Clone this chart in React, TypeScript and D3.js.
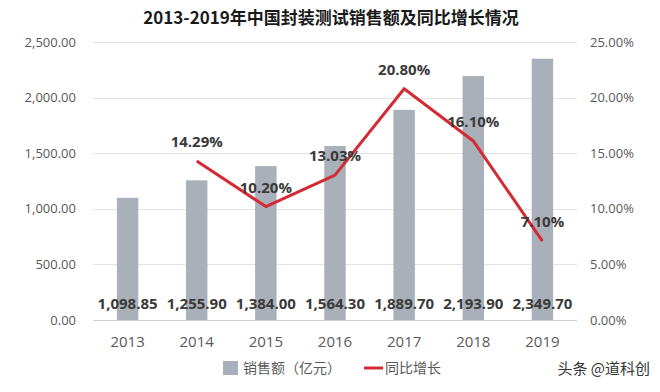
import React, { useEffect, useRef } from "react";
import * as d3 from "d3";

const years = ["2013", "2014", "2015", "2016", "2017", "2018", "2019"];
const sales = [1098.85, 1255.9, 1384.0, 1564.3, 1889.7, 2193.9, 2349.7];
const growthYears = ["2014", "2015", "2016", "2017", "2018", "2019"];
const growth = [14.29, 10.2, 13.03, 20.8, 16.1, 7.1];
const leftTicks = [0, 500, 1000, 1500, 2000, 2500];
const rightTicks = [0, 5, 10, 15, 20, 25];

const title = "2013-2019年中国封装测试销售额及同比增长情况";
const legendBar = "销售额（亿元）";
const legendLine = "同比增长";
const watermark = "头条 @道科创";

const W = 660;
const H = 392;
const FONT = "'Open Sans', 'Noto Sans CJK SC', sans-serif";
const CJK = "'Noto Sans CJK SC', 'Open Sans', sans-serif";

export default function App() {
  const ref = useRef<SVGSVGElement>(null);

  useEffect(() => {
    draw();
  }, []);

  const draw = () => {
    const svg = d3.select(ref.current);
    svg.selectAll("*").remove();

    const left = 93;
    const right = 577;
    const top = 42;
    const bottom = 320;

    const x = d3.scaleBand().domain(years).range([left, right]).paddingInner(0.69).paddingOuter(0.345);
    const yL = d3.scaleLinear().domain([0, 2500]).range([bottom, top]);
    const yR = d3.scaleLinear().domain([0, 25]).range([bottom, top]);
    const cx = (d: string) => (x(d) as number) + x.bandwidth() / 2;

    // title
    svg
      .append("text")
      .attr("x", 331)
      .attr("y", 24)
      .attr("text-anchor", "middle")
      .style("font-family", CJK)
      .style("font-weight", "bold")
      .style("font-size", "17px")
      .style("fill", "#1a1a1a")
      .text(title);

    // grid
    svg
      .append("g")
      .selectAll("line")
      .data(leftTicks)
      .enter()
      .append("line")
      .attr("x1", left)
      .attr("x2", right)
      .attr("y1", (d) => Math.round(yL(d)) + 0.5)
      .attr("y2", (d) => Math.round(yL(d)) + 0.5)
      .style("stroke", (d) => (d === 0 ? "#d0d0d0" : "#e3e3e3"))
      .style("stroke-width", 1);

    // left axis labels
    svg
      .append("g")
      .selectAll("text")
      .data(leftTicks)
      .enter()
      .append("text")
      .attr("x", 76)
      .attr("y", (d) => yL(d) + 4.5)
      .attr("text-anchor", "end")
      .style("font-family", FONT)
      .style("font-size", "13px")
      .style("fill", "#595959")
      .text((d) => d3.format(",.2f")(d));

    // right axis labels
    svg
      .append("g")
      .selectAll("text")
      .data(rightTicks)
      .enter()
      .append("text")
      .attr("x", 590)
      .attr("y", (d) => yR(d) + 4.5)
      .attr("text-anchor", "start")
      .style("font-family", FONT)
      .style("font-size", "13px")
      .style("fill", "#595959")
      .text((d) => d.toFixed(2) + "%");

    // bars
    svg
      .append("g")
      .selectAll("rect")
      .data(sales)
      .enter()
      .append("rect")
      .attr("x", (d, i) => x(years[i]) as number)
      .attr("y", (d) => yL(d))
      .attr("width", x.bandwidth())
      .attr("height", (d) => bottom - yL(d))
      .style("fill", "#a9b0b9");

    // bar values
    svg
      .append("g")
      .selectAll("text")
      .data(sales)
      .enter()
      .append("text")
      .attr("x", (d, i) => cx(years[i]))
      .attr("y", 309)
      .attr("text-anchor", "middle")
      .style("font-family", FONT)
      .style("font-weight", "bold")
      .style("font-size", "15px")
      .style("fill", "#3a3a3a")
      .text((d) => d3.format(",.2f")(d));

    // x labels
    svg
      .append("g")
      .selectAll("text")
      .data(years)
      .enter()
      .append("text")
      .attr("x", (d) => cx(d))
      .attr("y", 347)
      .attr("text-anchor", "middle")
      .style("font-family", FONT)
      .style("font-size", "15px")
      .style("fill", "#595959")
      .text((d) => d);

    // growth line
    const line = d3
      .line<number>()
      .x((d, i) => cx(growthYears[i]))
      .y((d) => yR(d));
    svg
      .append("path")
      .datum(growth)
      .attr("d", line)
      .style("fill", "none")
      .style("stroke", "#d42a33")
      .style("stroke-width", 3)
      .style("stroke-linejoin", "round");

    // growth labels
    svg
      .append("g")
      .selectAll("text")
      .data(growth)
      .enter()
      .append("text")
      .attr("x", (d, i) => cx(growthYears[i]))
      .attr("y", (d) => yR(d) - 14)
      .attr("text-anchor", "middle")
      .style("font-family", FONT)
      .style("font-weight", "bold")
      .style("font-size", "15px")
      .style("fill", "#3a3a3a")
      .text((d) => d.toFixed(2) + "%");

    // legend
    const lg = svg.append("g");
    lg.append("rect").attr("x", 223).attr("y", 361).attr("width", 15).attr("height", 14).style("fill", "#a9b0b9");
    lg.append("text")
      .attr("x", 243)
      .attr("y", 373)
      .style("font-family", CJK)
      .style("font-size", "14px")
      .style("fill", "#595959")
      .text(legendBar);
    lg.append("line")
      .attr("x1", 364)
      .attr("x2", 383)
      .attr("y1", 368)
      .attr("y2", 368)
      .style("stroke", "#d42a33")
      .style("stroke-width", 3);
    lg.append("text")
      .attr("x", 385)
      .attr("y", 373)
      .style("font-family", CJK)
      .style("font-size", "14px")
      .style("fill", "#595959")
      .text(legendLine);

    // watermark
    svg
      .append("text")
      .attr("x", 650)
      .attr("y", 374)
      .attr("text-anchor", "end")
      .style("font-family", CJK)
      .style("font-size", "15px")
      .style("fill", "#333333")
      .text(watermark);
  };

  return (
    <svg
      ref={ref}
      width={W}
      height={H}
      style={{ position: "absolute", left: 0, top: 0, background: "#ffffff" }}
    />
  );
}
